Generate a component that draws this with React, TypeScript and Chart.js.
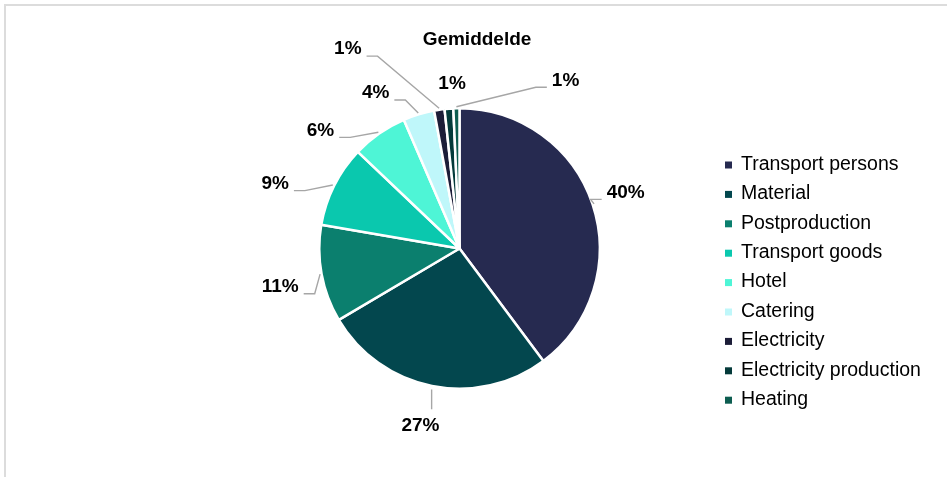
import React, { useEffect, useRef } from "react";
import { Chart, registerables } from "chart.js";

Chart.register(...registerables);

const categories = [
  "Transport persons",
  "Material",
  "Postproduction",
  "Transport goods",
  "Hotel",
  "Catering",
  "Electricity",
  "Electricity production",
  "Heating",
];
const shares = [39.8, 26.7, 11.2, 9.4, 6.4, 3.6, 1.2, 1.0, 0.7];
const colors = [
  "#262a50",
  "#03474e",
  "#0b7f6e",
  "#0ac8ae",
  "#4ef5d6",
  "#bff7fa",
  "#1c1d38",
  "#043a3a",
  "#0d5d50",
];
const chartTitle = "Gemiddelde";

// label layout nudges (dx, dy) relative to default outside position
const labelNudges: [number, number][] = [
  [-3, 0],
  [-4, 2],
  [-4, 6],
  [-25, 15],
  [-37, 28],
  [-32, 15],
  [-86, -23],
  [6, 13],
  [110, 10],
];

const FONT = '"Liberation Sans", Arial, sans-serif';

const decoPlugin = {
  id: "deco",
  afterDatasetsDraw(chart: any) {
    const ctx = chart.ctx as CanvasRenderingContext2D;
    const meta = chart.getDatasetMeta(0);
    const values = chart.data.datasets[0].data as number[];
    ctx.save();
    // title
    ctx.font = `bold 19px ${FONT}`;
    ctx.fillStyle = "#000";
    ctx.textAlign = "center";
    ctx.textBaseline = "middle";
    ctx.fillText(chartTitle, 477, 40);

    // data labels with leader lines
    meta.data.forEach((arc: any, i: number) => {
      const mid = (arc.startAngle + arc.endAngle) / 2;
      const r = arc.outerRadius;
      const cx0 = arc.x;
      const cy0 = arc.y;
      const dir = [Math.cos(mid), Math.sin(mid)];
      const lx = cx0 + (r + 38) * dir[0] + labelNudges[i][0];
      const ly = cy0 + (r + 38) * dir[1] + labelNudges[i][1];
      const text = Math.round(values[i]) + "%";
      ctx.font = `bold 19px ${FONT}`;
      const w = ctx.measureText(text).width;
      const ex = cx0 + (r + 1.5) * dir[0];
      const ey = cy0 + (r + 1.5) * dir[1];
      const dist = Math.hypot(lx - ex, ly - ey);
      ctx.strokeStyle = "#a6a6a6";
      ctx.lineWidth = 1.4;
      if (dist > 30) {
        ctx.beginPath();
        if (ly - 10 > ey && Math.abs(lx - ex) < w) {
          ctx.moveTo(ex, ey + 2);
          ctx.lineTo(ex, ly - 16);
        } else {
          const hy = ly + 7;
          let near: number, far: number;
          if (lx < ex) {
            near = lx + w / 2 + 5;
            far = near + 11;
          } else {
            near = lx - w / 2 - 5;
            far = near - 11;
          }
          ctx.moveTo(ex, ey);
          ctx.lineTo(far, hy);
          ctx.lineTo(near, hy);
        }
        ctx.stroke();
      }
      ctx.fillStyle = "#000";
      ctx.textAlign = "center";
      ctx.textBaseline = "middle";
      ctx.fillText(text, lx, ly);
    });

    // legend
    const bg = chart.data.datasets[0].backgroundColor as string[];
    (chart.data.labels as string[]).forEach((lab: string, i: number) => {
      const y = 164.5 + i * 29.4;
      ctx.fillStyle = bg[i];
      ctx.fillRect(725, y - 3, 7, 7);
      ctx.fillStyle = "#000";
      ctx.font = `19.5px ${FONT}`;
      ctx.textAlign = "left";
      ctx.textBaseline = "middle";
      ctx.fillText(lab, 741, y);
    });
    ctx.restore();
  },
};

export default function App() {
  const ref = useRef<HTMLCanvasElement | null>(null);
  useEffect(() => {
    if (!ref.current) return;
    const chart = new Chart(ref.current, {
      type: "pie",
      data: {
        labels: categories,
        datasets: [
          {
            data: shares,
            backgroundColor: colors,
            borderColor: "#ffffff",
            borderWidth: 2.5,
          },
        ],
      },
      options: {
        animation: false,
        responsive: false,
        devicePixelRatio: 1,
        layout: { padding: { left: 318, right: 346, top: 107, bottom: 87 } },
        plugins: {
          legend: { display: false },
          tooltip: { enabled: false },
          title: { display: false },
        },
      },
      plugins: [decoPlugin],
    });
    return () => chart.destroy();
  }, []);
  return (
    <div
      style={{
        position: "fixed",
        left: 0,
        top: 0,
        width: 947,
        height: 477,
        background: "#fff",
      }}
    >
      <div
        style={{
          position: "absolute",
          left: 4,
          top: 4,
          right: 0,
          bottom: 0,
          borderTop: "2px solid #dcdcdc",
          borderLeft: "2px solid #dcdcdc",
        }}
      />
      <canvas
        ref={ref}
        width={947}
        height={477}
        style={{ position: "absolute", left: 0, top: 0, width: 947, height: 477 }}
      />
    </div>
  );
}
